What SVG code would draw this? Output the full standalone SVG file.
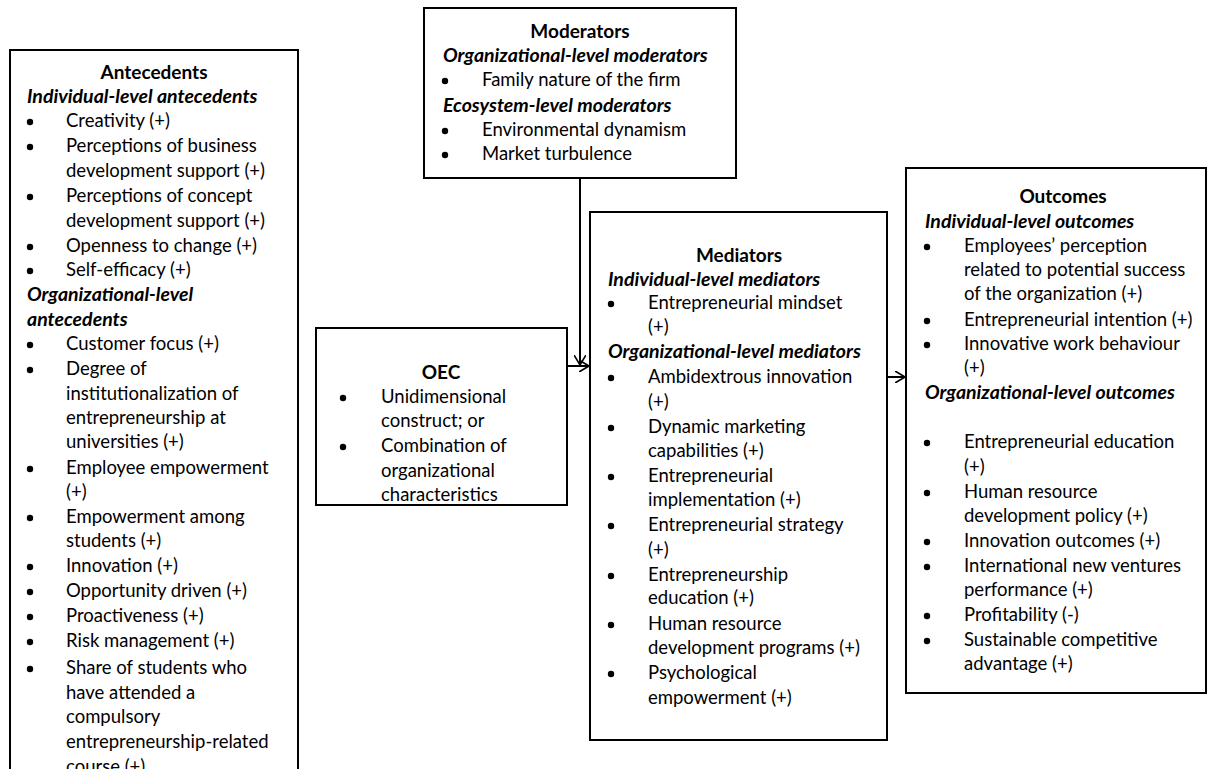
<svg xmlns="http://www.w3.org/2000/svg" width="1208" height="769" viewBox="0 0 1208 769">
<style>
.box{fill:#fff;stroke:#000;stroke-width:2}
text{font-family:Lato,"Open Sans",sans-serif;font-size:18.5px;fill:#000}
.h{font-weight:bold;text-anchor:middle;font-size:19px}
.i{font-weight:bold;font-style:italic;font-size:19.5px}
.b{fill:#000}
.c{stroke:#000;stroke-width:2;fill:none}
</style>
<defs>
<marker id="ah" viewBox="0 0 10 12" refX="10" refY="6" markerWidth="10" markerHeight="12" markerUnits="userSpaceOnUse" orient="auto">
<path d="M0,0 L10,6 L0,12" fill="none" stroke="#000" stroke-width="1.6"/>
</marker>
</defs>
<rect width="1208" height="769" fill="#fff"/>

<g id="connectors">
<path class="c" d="M580,178 V365" marker-end="url(#ah)"/>
<path class="c" d="M567,366 H589" marker-end="url(#ah)"/>
<path class="c" d="M887,377 H905" marker-end="url(#ah)"/>
</g>

<g id="antecedents">
<rect class="box" x="10" y="50" width="288" height="760"/>
<text class="h" x="154" y="79">Antecedents</text>
<text class="i" x="27" y="103">Individual-level antecedents</text>
<g class="b">
<circle cx="30" cy="122" r="3.2"/><circle cx="30" cy="147" r="3.2"/><circle cx="30" cy="197" r="3.2"/><circle cx="30" cy="247" r="3.2"/><circle cx="30" cy="271" r="3.2"/>
<circle cx="30" cy="345" r="3.2"/><circle cx="30" cy="370" r="3.2"/><circle cx="30" cy="469" r="3.2"/><circle cx="30" cy="518" r="3.2"/><circle cx="30" cy="567" r="3.2"/><circle cx="30" cy="592" r="3.2"/><circle cx="30" cy="617" r="3.2"/><circle cx="30" cy="642" r="3.2"/><circle cx="30" cy="669" r="3.2"/>
</g>
<text x="66" y="127">Creativity (+)</text>
<text x="66" y="152">Perceptions of business</text>
<text x="66" y="177">development support (+)</text>
<text x="66" y="202">Perceptions of concept</text>
<text x="66" y="227">development support (+)</text>
<text x="66" y="252">Openness to change (+)</text>
<text x="66" y="276">Self-efficacy (+)</text>
<text class="i" x="27" y="301">Organizational-level</text>
<text class="i" x="27" y="326">antecedents</text>
<text x="66" y="350">Customer focus (+)</text>
<text x="66" y="375">Degree of</text>
<text x="66" y="400">institutionalization of</text>
<text x="66" y="424">entrepreneurship at</text>
<text x="66" y="448">universities (+)</text>
<text x="66" y="474">Employee empowerment</text>
<text x="66" y="498">(+)</text>
<text x="66" y="523">Empowerment among</text>
<text x="66" y="547">students (+)</text>
<text x="66" y="572">Innovation (+)</text>
<text x="66" y="597">Opportunity driven (+)</text>
<text x="66" y="622">Proactiveness (+)</text>
<text x="66" y="647">Risk management (+)</text>
<text x="66" y="674">Share of students who</text>
<text x="66" y="699">have attended a</text>
<text x="66" y="723">compulsory</text>
<text x="66" y="748">entrepreneurship-related</text>
<text x="66" y="773">course (+)</text>
</g>

<g id="moderators">
<rect class="box" x="424" y="8" width="312" height="170"/>
<text class="h" x="580" y="38">Moderators</text>
<text class="i" x="443" y="62">Organizational-level moderators</text>
<circle class="b" cx="445" cy="81" r="3.2"/>
<text x="482" y="86">Family nature of the firm</text>
<text class="i" x="443" y="112">Ecosystem-level moderators</text>
<circle class="b" cx="445" cy="131" r="3.2"/>
<text x="482" y="136">Environmental dynamism</text>
<circle class="b" cx="445" cy="155" r="3.2"/>
<text x="482" y="160">Market turbulence</text>
</g>

<g id="oec">
<rect class="box" x="316" y="328" width="251" height="177"/>
<text class="h" x="441" y="379" style="font-size:19px">OEC</text>
<circle class="b" cx="343" cy="398" r="3.2"/>
<text x="381" y="403">Unidimensional</text>
<text x="381" y="427">construct; or</text>
<circle class="b" cx="343" cy="447" r="3.2"/>
<text x="381" y="452">Combination of</text>
<text x="381" y="477">organizational</text>
<text x="381" y="501">characteristics</text>
</g>

<g id="mediators">
<rect class="box" x="590" y="212" width="297" height="528"/>
<text class="h" x="739" y="262">Mediators</text>
<text class="i" x="608" y="286">Individual-level mediators</text>
<g class="b">
<circle cx="611" cy="304" r="3.2"/><circle cx="611" cy="378" r="3.2"/><circle cx="611" cy="428" r="3.2"/><circle cx="611" cy="477" r="3.2"/><circle cx="611" cy="526" r="3.2"/><circle cx="611" cy="576" r="3.2"/><circle cx="611" cy="625" r="3.2"/><circle cx="611" cy="674" r="3.2"/>
</g>
<text x="648" y="309">Entrepreneurial mindset</text>
<text x="648" y="333">(+)</text>
<text class="i" x="608" y="358">Organizational-level mediators</text>
<text x="648" y="383">Ambidextrous innovation</text>
<text x="648" y="408">(+)</text>
<text x="648" y="433">Dynamic marketing</text>
<text x="648" y="457">capabilities (+)</text>
<text x="648" y="482">Entrepreneurial</text>
<text x="648" y="506">implementation (+)</text>
<text x="648" y="531">Entrepreneurial strategy</text>
<text x="648" y="556">(+)</text>
<text x="648" y="581">Entrepreneurship</text>
<text x="648" y="604">education (+)</text>
<text x="648" y="630">Human resource</text>
<text x="648" y="654">development programs (+)</text>
<text x="648" y="679">Psychological</text>
<text x="648" y="704">empowerment (+)</text>
</g>

<g id="outcomes">
<rect class="box" x="906" y="168" width="300" height="525"/>
<text class="h" x="1063" y="203">Outcomes</text>
<text class="i" x="925" y="228">Individual-level outcomes</text>
<g class="b">
<circle cx="927" cy="247" r="3.2"/><circle cx="927" cy="321" r="3.2"/><circle cx="927" cy="345" r="3.2"/>
<circle cx="927" cy="443" r="3.2"/><circle cx="927" cy="493" r="3.2"/><circle cx="927" cy="542" r="3.2"/><circle cx="927" cy="567" r="3.2"/><circle cx="927" cy="616" r="3.2"/><circle cx="927" cy="641" r="3.2"/>
</g>
<text x="964" y="252">Employees’ perception</text>
<text x="964" y="276">related to potential success</text>
<text x="964" y="300">of the organization (+)</text>
<text x="964" y="326">Entrepreneurial intention (+)</text>
<text x="964" y="350">Innovative work behaviour</text>
<text x="964" y="374">(+)</text>
<text class="i" x="925" y="399">Organizational-level outcomes</text>
<text x="964" y="448">Entrepreneurial education</text>
<text x="964" y="473">(+)</text>
<text x="964" y="498">Human resource</text>
<text x="964" y="522">development policy (+)</text>
<text x="964" y="547">Innovation outcomes (+)</text>
<text x="964" y="572">International new ventures</text>
<text x="964" y="596">performance (+)</text>
<text x="964" y="621">Profitability (-)</text>
<text x="964" y="646">Sustainable competitive</text>
<text x="964" y="670">advantage (+)</text>
</g>
</svg>
